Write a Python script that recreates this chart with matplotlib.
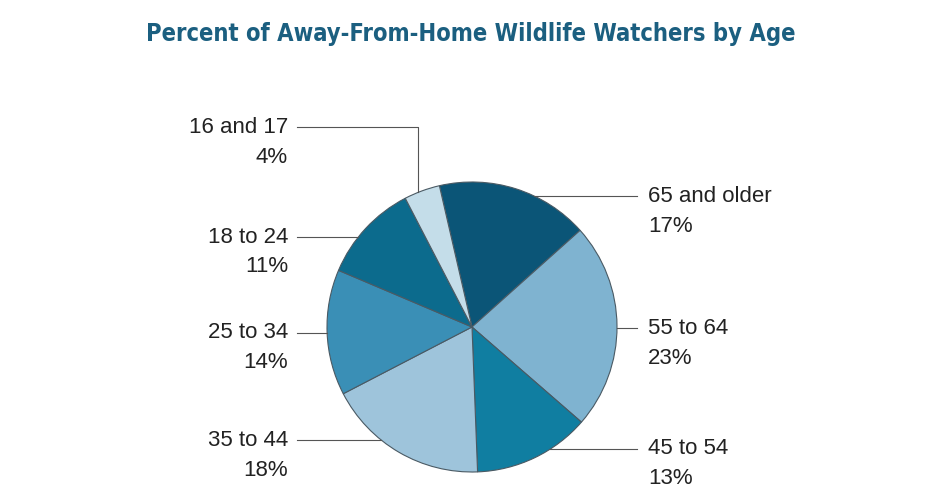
import numpy as np
import matplotlib.pyplot as plt
from matplotlib import font_manager

# slices, clockwise from the top
ages = ['65 and older', '55 to 64', '45 to 54', '35 to 44', '25 to 34', '18 to 24', '16 and 17']
shares = [17, 23, 13, 18, 14, 11, 4]
colors = ['#0b5577', '#7fb3d0', '#107ea1', '#9ec4db', '#3a8fb6', '#0c6b8d', '#c4dde9']

W, H = 950, 501
cx, cy, r = 472, H - 327, 145

fig = plt.figure(figsize=(W / 100, H / 100), dpi=100)
ax = fig.add_axes([0, 0, 1, 1])
ax.pie(shares, colors=colors, startangle=103, counterclock=False,
       center=(cx, cy), radius=r,
       wedgeprops=dict(edgecolor='#4a5a64', linewidth=0.8))
ax.set_xlim(0, W)
ax.set_ylim(0, H)
ax.set_aspect('equal')
ax.axis('off')

names = {f.name for f in font_manager.fontManager.ttflist}
title_font = 'Liberation Sans Narrow' if 'Liberation Sans Narrow' in names else 'DejaVu Sans'
fig.text(471 / W, 1 - 34 / H, 'Percent of Away-From-Home Wildlife Watchers by Age',
         ha='center', va='center', fontsize=17, fontweight='bold',
         color='#1b5f80', family=title_font, stretch='condensed')

lab_font = 'Liberation Sans'
txt_col = '#222222'
line_col = '#555555'
fs = 16


def edge_x(y, side):
    d = np.sqrt(max(r ** 2 - (y - cy) ** 2, 0))
    return cx + side * d


# label placement (pixel rows of first line)
left = {'16 and 17': 127, '18 to 24': 237, '25 to 34': 333, '35 to 44': 440}
right = {'65 and older': 196, '55 to 64': 328, '45 to 54': 449}

for i, name in enumerate(ages):
    pct = '%d%%' % shares[i]
    if name in left:
        y = H - left[name]
        ax.text(288, y, name, ha='right', va='center', fontsize=fs, color=txt_col, family=lab_font)
        ax.text(288, y - 30, pct, ha='right', va='center', fontsize=fs, color=txt_col, family=lab_font)
        if name == '16 and 17':
            xv = 418
            yv = cy + np.sqrt(r ** 2 - (xv - cx) ** 2)
            ax.plot([297, xv, xv], [y, y, yv], color=line_col, lw=0.8)
        else:
            ax.plot([297, edge_x(y, -1)], [y, y], color=line_col, lw=0.8)
    else:
        y = H - right[name]
        ax.text(648, y, name, ha='left', va='center', fontsize=fs, color=txt_col, family=lab_font)
        ax.text(648, y - 30, pct, ha='left', va='center', fontsize=fs, color=txt_col, family=lab_font)
        ax.plot([edge_x(y, 1), 637], [y, y], color=line_col, lw=0.8)

fig.savefig('out.png', dpi=100, facecolor='white')
